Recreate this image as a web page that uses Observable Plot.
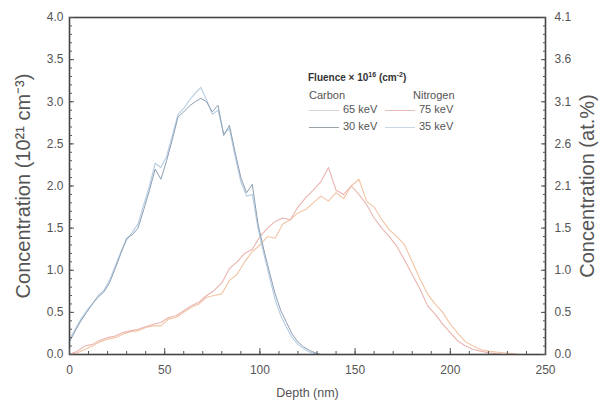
<!DOCTYPE html>
<html>
<head>
<meta charset="utf-8">
<script src="https://cdn.jsdelivr.net/npm/d3@7"></script>
<script src="https://cdn.jsdelivr.net/npm/@observablehq/plot@0.6"></script>
<style>
  html, body { margin: 0; padding: 0; background: #fff; }
  #wrap { position: relative; width: 601px; height: 407px; font-family: "Liberation Sans", Arial, sans-serif; }
  .lg { position: absolute; font-size: 11px; color: #555; white-space: nowrap; line-height: 1; }
  .lg sup { font-size: 7px; vertical-align: 4px; line-height: 0; }
  .lgline { position: absolute; height: 0; border-top: 1.2px solid; }
</style>
</head>
<body>
<div id="wrap"></div>
<script>
// ---- data ----
const blueDepth = [0,3,6,9,12,15,18,21,24,27,30,33,36,39,42,45,48,51,54,57,60,63,66,69,72,75,78,81,84,87,90,93,96,99,102,105,108,111,114,117,120,123,126,129,132];
const carbon30 = [0.15,0.28,0.4,0.5,0.6,0.68,0.74,0.85,1.02,1.2,1.38,1.42,1.5,1.72,1.95,2.2,2.08,2.3,2.55,2.82,2.88,2.95,3.0,3.04,3.0,2.88,2.96,2.6,2.72,2.4,2.1,1.92,2.02,1.55,1.25,0.98,0.72,0.52,0.38,0.24,0.15,0.09,0.05,0.02,0.0];
const nitrogen35 = [0.18,0.3,0.42,0.52,0.6,0.7,0.76,0.88,1.05,1.22,1.36,1.45,1.55,1.78,2.0,2.27,2.22,2.35,2.6,2.85,2.92,3.02,3.1,3.17,3.02,2.85,2.9,2.62,2.68,2.35,2.05,1.88,1.9,1.5,1.2,0.92,0.65,0.46,0.32,0.2,0.12,0.07,0.03,0.01,0.0];

const orangeDepth = [0,4,8,12,16,20,24,28,32,36,40,44,48,52,56,60,64,68,72,76,80,84,88,92,96,100,104,108,112,116,120,124,128,132,136,140,144,148,152,156,160,164,168,172,176,180,184,188,192,196,200,204,208,212,216,220,224,228,232,236];
const nitrogen75 = [0.0,0.04,0.1,0.12,0.17,0.2,0.22,0.26,0.28,0.3,0.33,0.36,0.38,0.44,0.46,0.52,0.58,0.62,0.7,0.76,0.85,1.02,1.1,1.2,1.25,1.4,1.5,1.58,1.62,1.6,1.75,1.86,1.95,2.05,2.22,1.95,1.9,2.0,1.9,1.78,1.62,1.5,1.4,1.28,1.12,0.95,0.78,0.58,0.48,0.36,0.26,0.16,0.1,0.06,0.04,0.02,0.01,0.0,0.0,0.0];
const carbon65 = [0.0,0.02,0.06,0.1,0.15,0.18,0.2,0.24,0.27,0.28,0.32,0.34,0.34,0.42,0.44,0.5,0.56,0.6,0.68,0.7,0.72,0.88,0.95,1.1,1.22,1.3,1.4,1.38,1.55,1.6,1.68,1.72,1.8,1.88,1.82,1.92,1.85,2.0,2.08,1.82,1.75,1.6,1.48,1.4,1.3,1.1,0.9,0.72,0.6,0.5,0.36,0.25,0.15,0.1,0.06,0.04,0.03,0.02,0.01,0.0];

const xMajor = [0,50,100,150,200,250];
const xMinor = d3.range(0, 251, 10);
const yMajor = [0,0.5,1,1.5,2,2.5,3,3.5,4];
const yMinor = d3.range(0, 40.5, 1).map(v => v / 10);
const rightLabels = ["0.0","0.5","1.0","1.5","2.1","2.6","3.1","3.6","4.1"];
const xTitle = ["Depth (nm)"];
const yLeftTitle = ["Concentration (10\u00B2\u00B9 cm\u207B\u00B3)"];
const yRightTitle = ["Concentration (at.%)"];

const colors = { c65: "#f2c4a4", n75: "#eab4b0", c30: "#8d9fb3", n35: "#b6cde2" };
const legendTitleHTML = "Fluence \u00D7 10<sup>16</sup> (cm<sup>-2</sup>)";
const legendGroups = ["Carbon", "Nitrogen"];
const legendItems = [
  { label: "65 keV", color: "#d8d2ce" }, { label: "75 keV", color: "#e8bcbc" },
  { label: "30 keV", color: "#9aa2aa" }, { label: "35 keV", color: "#c6d8e8" }
];

const seriesC30 = blueDepth.map((d, i) => ({ depth: d, c: carbon30[i] }));
const seriesN35 = blueDepth.map((d, i) => ({ depth: d, c: nitrogen35[i] }));
const seriesC65 = orangeDepth.map((d, i) => ({ depth: d, c: carbon65[i] }));
const seriesN75 = orangeDepth.map((d, i) => ({ depth: d, c: nitrogen75[i] }));

const tickColor = "#555";
const chart = Plot.plot({
  width: 601, height: 407,
  marginLeft: 69, marginRight: 56, marginTop: 17, marginBottom: 53,
  x: { domain: [0, 250] },
  y: { domain: [0, 4] },
  style: { fontFamily: "'Liberation Sans', Arial, sans-serif", fontSize: "12px", color: "#555", background: "#fff" },
  marks: [
    Plot.line(seriesC65, { x: "depth", y: "c", stroke: colors.c65, strokeWidth: 1.1 }),
    Plot.line(seriesN75, { x: "depth", y: "c", stroke: colors.n75, strokeWidth: 1.1 }),
    Plot.line(seriesN35, { x: "depth", y: "c", stroke: colors.n35, strokeWidth: 1.1 }),
    Plot.line(seriesC30, { x: "depth", y: "c", stroke: colors.c30, strokeWidth: 1 }),
    Plot.frame({ stroke: "#444", strokeWidth: 1.6 }),
    Plot.axisX({ ticks: xMinor, tickSize: -3, text: null, label: null, stroke: tickColor }),
    Plot.axisX({ ticks: xMajor, tickSize: -6, tickPadding: 17, tickFormat: d3.format("d"), label: null, stroke: tickColor, fill: "#555", fontSize: 12 }),
    Plot.axisY({ ticks: yMinor, tickSize: -3, text: null, label: null, stroke: tickColor }),
    Plot.axisY({ ticks: yMajor, tickSize: -5, tickPadding: 11, tickFormat: d3.format(".1f"), label: null, stroke: tickColor, fill: "#555", fontSize: 12 }),
    Plot.axisY({ anchor: "right", ticks: yMinor, tickSize: -3, text: null, label: null, stroke: tickColor }),
    Plot.axisY({ anchor: "right", ticks: yMajor, tickSize: -5, tickPadding: 14, tickFormat: d => rightLabels[yMajor.indexOf(d)], label: null, stroke: tickColor, fill: "#555", fontSize: 12 }),
    Plot.text(xTitle, { text: d => d, frameAnchor: "bottom", dy: 42, fontSize: 12.5, fill: "#555" }),
    Plot.text(yLeftTitle, { text: d => d, frameAnchor: "left", textAnchor: "middle", dx: -46, rotate: -90, fontSize: 20, fill: "#555" }),
    Plot.text(yRightTitle, { text: d => d, frameAnchor: "right", textAnchor: "middle", dx: 42, rotate: -90, fontSize: 20, fill: "#555" })
  ]
});

const wrap = document.getElementById("wrap");
wrap.appendChild(chart);

// legend overlay
function addText(html, left, top, extra) {
  const el = document.createElement("div");
  el.className = "lg";
  el.innerHTML = html;
  el.style.left = left + "px";
  el.style.top = top + "px";
  if (extra) Object.assign(el.style, extra);
  wrap.appendChild(el);
}
function addLine(color, left, top, w) {
  const el = document.createElement("div");
  el.className = "lgline";
  el.style.left = left + "px";
  el.style.top = top + "px";
  el.style.width = w + "px";
  el.style.borderTopColor = color;
  wrap.appendChild(el);
}
addText(legendTitleHTML, 308, 73, { fontWeight: "bold", fontSize: "10px", color: "#333" });
addText(legendGroups[0], 309, 90);
addText(legendGroups[1], 413, 90);
const rowsTop = [104, 121];
legendItems.forEach((it, i) => {
  const r = Math.floor(i / 2), c = i % 2;
  const x0 = c === 0 ? 309 : 385;
  addLine(it.color, x0, rowsTop[r] + 6, 30);
  addText(it.label, x0 + 34, rowsTop[r]);
});
</script>
</body>
</html>
